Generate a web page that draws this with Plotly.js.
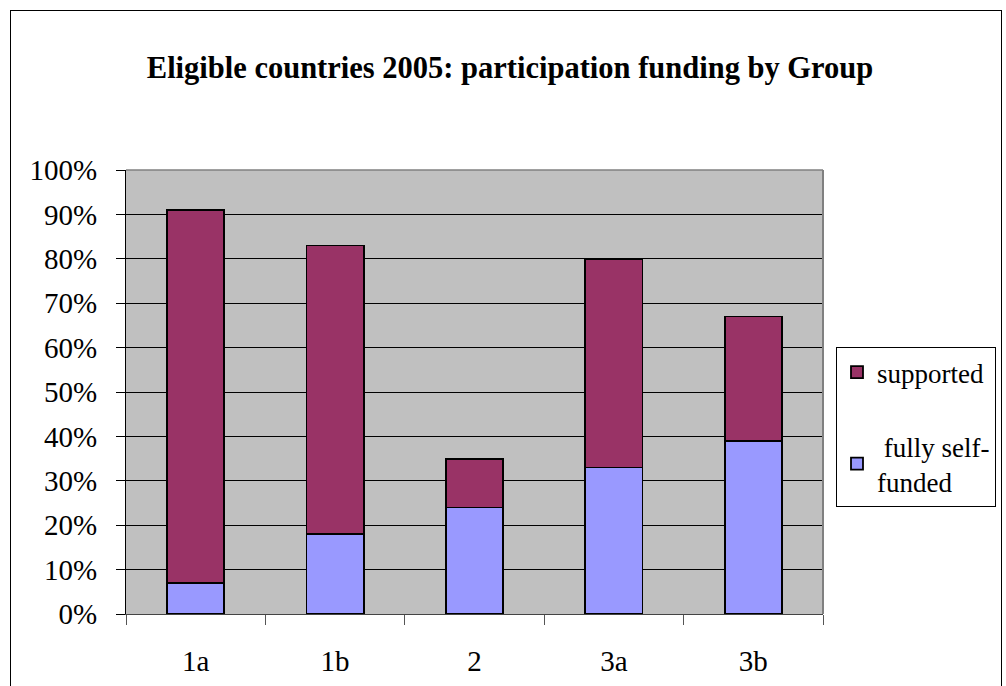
<!DOCTYPE html>
<html>
<head>
<meta charset="utf-8">
<script src="https://cdn.plot.ly/plotly-3.0.1.min.js"></script>
<style>
  html, body { margin: 0; padding: 0; background: #fff; }
  #wrap { position: relative; width: 1006px; height: 686px; overflow: hidden; }
  #chart { width: 1006px; height: 686px; }
  #frame { position: absolute; left: 10px; top: 10px; width: 992px; height: 720px;
           border: 1.5px solid #000; pointer-events: none; box-sizing: border-box; }
</style>
</head>
<body>
<div id="wrap">
  <div id="chart"></div>
  <div id="frame"></div>
</div>
<script>
// Data (percent of eligible countries)
const groups = ['1a', '1b', '2', '3a', '3b'];
const selfFunded = [7, 18, 24, 33, 39];
const supported = [84, 65, 11, 47, 28];
const yTickVals = [0, 10, 20, 30, 40, 50, 60, 70, 80, 90, 100];
const yTickText = yTickVals.map(v => v + '%');

const FONT = "'Liberation Serif', 'Times New Roman', 'DejaVu Serif', serif";

const traces = [
  {
    type: 'bar',
    name: '\u00a0fully self-<br>funded',
    x: groups,
    y: selfFunded,
    legendgroup: 'g1',
    legendrank: 2,
    marker: { color: '#9999FF', line: { color: '#000', width: 1.8 } },
    hoverinfo: 'x+y'
  },
  {
    type: 'bar',
    name: 'supported',
    x: groups,
    y: supported,
    legendgroup: 'g2',
    legendrank: 1,
    marker: { color: '#993366', line: { color: '#000', width: 1.8 } },
    hoverinfo: 'x+y'
  }
];

const layout = {
  width: 1006,
  height: 686,
  margin: { l: 126, r: 183, t: 170, b: 72 },
  paper_bgcolor: '#FFFFFF',
  plot_bgcolor: '#C0C0C0',
  barmode: 'stack',
  bargap: 0.59,
  font: { family: FONT, size: 29, color: '#000' },
  title: {
    text: '<b>Eligible countries 2005: participation funding by Group</b>',
    font: { family: FONT, size: 30.5, color: '#000' },
    x: 0.507, xref: 'container', xanchor: 'center',
    y: 0.902, yref: 'container', yanchor: 'middle'
  },
  xaxis: {
    type: 'category',
    tickson: 'boundaries',
    ticks: 'outside',
    ticklen: 10,
    tickwidth: 1,
    tickcolor: '#555',
    ticklabelstandoff: 21,
    showline: true,
    linecolor: '#444',
    linewidth: 1,
    showgrid: false,
    tickfont: { family: FONT, size: 29, color: '#000' }
  },
  yaxis: {
    range: [0, 100],
    tickmode: 'array',
    tickvals: yTickVals,
    ticktext: yTickText,
    ticks: 'outside',
    ticklen: 9,
    tickwidth: 1,
    tickcolor: '#000',
    ticklabelstandoff: 13,
    showline: true,
    linecolor: '#000',
    linewidth: 1,
    showgrid: true,
    gridcolor: '#000',
    gridwidth: 1,
    zeroline: false,
    tickfont: { family: FONT, size: 29, color: '#000' }
  },
  shapes: [
    { type: 'line', xref: 'paper', yref: 'paper', x0: 0, x1: 1, y0: 1, y1: 1,
      line: { color: '#808080', width: 1.5 } },
    { type: 'line', xref: 'paper', yref: 'paper', x0: 1, x1: 1, y0: 0, y1: 1,
      line: { color: '#808080', width: 2 } }
  ],
  showlegend: true,
  legend: {
    traceorder: 'grouped',
    tracegroupgap: 36,
    x: 836 / 1006, xref: 'container', xanchor: 'left',
    y: 1 - 347 / 686, yref: 'container', yanchor: 'top',
    bgcolor: '#FFFFFF',
    bordercolor: '#000',
    borderwidth: 1,
    font: { family: FONT, size: 27, color: '#000' },
    itemwidth: 30
  }
};

Plotly.newPlot('chart', traces, layout, { displayModeBar: false, staticPlot: true });
</script>
</body>
</html>
